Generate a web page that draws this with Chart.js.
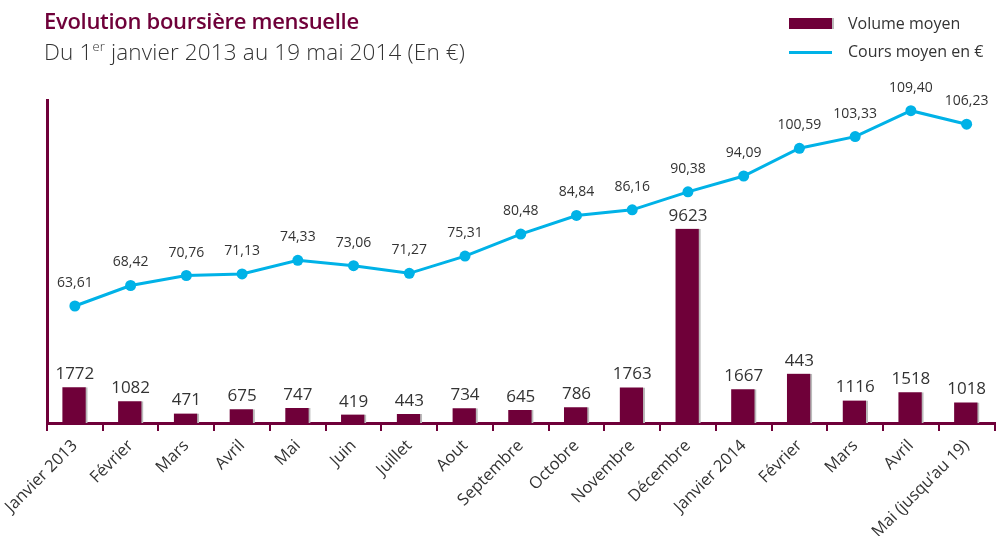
<!DOCTYPE html>
<html>
<head>
<meta charset="utf-8">
<script src="https://cdn.jsdelivr.net/npm/chart.js@4.4.1/dist/chart.umd.min.js"></script>
<style>
  html, body { margin: 0; padding: 0; background: #fff; }
  #wrap { position: relative; width: 1000px; height: 536px; font-family: "Open Sans", sans-serif; color: #333; }
  #chart { position: absolute; left: 0; top: 0; }
  .title { position: absolute; left: 44px; top: 5px; font-size: 22px; font-weight: 600; color: #6f0039; white-space: nowrap; letter-spacing: -0.3px; }
  .sub { position: absolute; left: 44px; top: 36px; font-size: 22.5px; font-weight: 300; color: #333; white-space: nowrap; letter-spacing: 0.15px; }
  .sub sup { font-size: 13px; vertical-align: 9px; line-height: 0; }
  .lg-box { position: absolute; left: 789px; top: 18px; width: 43px; height: 11px; background: #6f0039; box-shadow: 2px 0 0 #bbb; }
  .lg-line { position: absolute; left: 789px; top: 51px; width: 43px; height: 3px; background: #00b2e7; }
  .lg-text { position: absolute; left: 848px; font-size: 16px; color: #333; white-space: nowrap; }
</style>
</head>
<body>
<div id="wrap">
  <canvas id="chart" width="1000" height="536"></canvas>
  <div class="title">Evolution boursière mensuelle</div>
  <div class="sub">Du 1<sup>er</sup> janvier 2013 au 19 mai 2014 (En €)</div>
  <div class="lg-box"></div>
  <div class="lg-text" style="top:12px">Volume moyen</div>
  <div class="lg-line"></div>
  <div class="lg-text" style="top:40px">Cours moyen en €</div>
</div>
<script>
const months = ["Janvier 2013", "Février", "Mars", "Avril", "Mai", "Juin", "Juillet", "Aout",
  "Septembre", "Octobre", "Novembre", "Décembre", "Janvier 2014", "Février", "Mars", "Avril",
  "Mai (jusqu’au 19)"];

// bar heights (Feb 2014 bar is drawn taller than its printed label)
const volumes = [1772, 1082, 471, 675, 747, 419, 443, 734, 645, 786, 1763, 9623, 1667, 2443, 1116, 1518, 1018];
// labels as printed on the chart
const volumeLabels = ["1772", "1082", "471", "675", "747", "419", "443", "734", "645", "786", "1763",
  "9623", "1667", "443", "1116", "1518", "1018"];

const prices = [63.61, 68.42, 70.76, 71.13, 74.33, 73.06, 71.27, 75.31, 80.48, 84.84, 86.16,
  90.38, 94.09, 100.59, 103.33, 109.40, 106.23];

const maroon = "#6f0039";
const blue = "#00b2e7";
const font = "'Open Sans', sans-serif";

// draw the value labels above bars and points
const valueLabels = {
  id: "valueLabels",
  afterDatasetsDraw(chart) {
    const ctx = chart.ctx;
    ctx.save();
    ctx.fillStyle = "#333";
    ctx.textAlign = "center";
    ctx.textBaseline = "alphabetic";

    ctx.font = "17px " + font;
    chart.getDatasetMeta(0).data.forEach((bar, i) => {
      ctx.fillText(volumeLabels[i], bar.x, bar.y - 8);
    });

    ctx.font = "14px " + font;
    chart.getDatasetMeta(1).data.forEach((pt, i) => {
      ctx.fillText(prices[i].toFixed(2).replace(".", ","), pt.x, pt.y - 19);
    });
    ctx.restore();
  }
};

new Chart(document.getElementById("chart").getContext("2d"), {
  data: {
    labels: months,
    datasets: [
      {
        type: "bar",
        label: "Volume moyen",
        data: volumes,
        yAxisID: "y",
        backgroundColor: maroon,
        borderColor: "#bbb",
        borderWidth: { top: 0, right: 2, bottom: 0, left: 0 },
        borderSkipped: false,
        barThickness: 25,
        order: 2
      },
      {
        type: "line",
        label: "Cours moyen en €",
        data: prices,
        yAxisID: "y2",
        borderColor: blue,
        backgroundColor: blue,
        borderWidth: 3,
        pointRadius: 5.5,
        pointBorderWidth: 0,
        tension: 0,
        order: 1
      }
    ]
  },
  options: {
    responsive: false,
    animation: false,
    layout: { padding: { left: 47, top: 100, right: 0, bottom: 0 } },
    plugins: {
      legend: { display: false },
      tooltip: { enabled: false }
    },
    scales: {
      x: {
        grid: {
          display: true,
          drawOnChartArea: false,
          drawTicks: true,
          tickLength: 8,
          // no tick mark at the far right edge
          color: c => (c.index >= months.length ? "rgba(0,0,0,0)" : maroon),
          lineWidth: 2,
          offset: true
        },
        border: { display: true, color: maroon, width: 3 },
        ticks: {
          color: "#333",
          font: { family: font, size: 16.5 },
          maxRotation: 45,
          minRotation: 45,
          autoSkip: false,
          padding: 5
        },
        afterFit: s => { s.height = 113; }
      },
      y: {
        position: "left",
        min: 0,
        max: 16000,
        grid: { display: false },
        border: { display: true, color: maroon, width: 3 },
        ticks: { display: false },
        afterFit: s => { s.width = 0; }
      },
      y2: {
        display: false,
        min: 36.18,
        max: 111.91
      }
    }
  },
  plugins: [valueLabels]
});
</script>
</body>
</html>
